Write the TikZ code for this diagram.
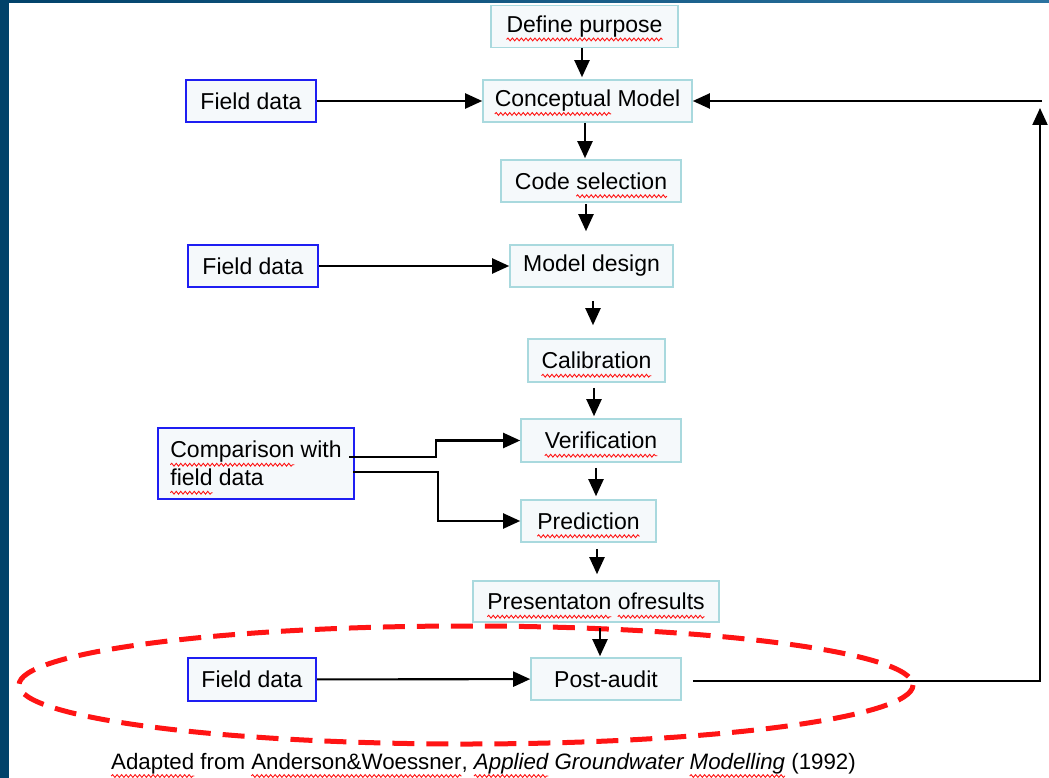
\documentclass[tikz,border=0pt]{standalone}
\usepackage{fontspec}
\setmainfont{Liberation Sans}
\usetikzlibrary{arrows.meta, calc, decorations.pathmorphing}
\definecolor{slidenavy}{HTML}{01426A}
\definecolor{slideteal}{HTML}{2B73A0}
\definecolor{stageline}{HTML}{A9D9DE}
\definecolor{stagefill}{HTML}{F5F9FB}
\definecolor{sourceline}{HTML}{1E1EF2}
\definecolor{auditred}{HTML}{FF1414}
\newcommand{\typo}[1]{\tikz[baseline=(w.base), x=1cm, y=1cm]{\node[draw=none, fill=none, inner sep=0pt, minimum size=0pt, outer sep=0pt] (w) {#1};
  \draw[overlay, auditred, line width=0.9pt, decorate, decoration={snake, amplitude=1.4pt, segment length=4.5pt}] ([yshift=-7pt]w.base west) -- ([yshift=-7pt]w.base east);}}
\tikzset{
stage/.style={draw=stageline, fill=stagefill, line width=1.6pt, inner sep=0pt, minimum height=42pt},
source/.style={draw=sourceline, fill=stagefill, line width=2pt, inner sep=0pt, minimum height=42pt},
flow/.style={draw=black, line width=2.1pt, -{Triangle[length=17pt,width=15pt]}}
}

\begin{document}
\begin{tikzpicture}[x=1pt, y=-1pt, font=\fontsize{23}{28}\selectfont]
  \useasboundingbox (0,0) rectangle (1049,778);
  \fill[slidenavy] (0,0) rectangle (9,778);
  \shade[left color=slidenavy, right color=slideteal] (0,0) rectangle (1049,3);
  \draw[auditred, line width=5pt, dash pattern=on 22pt off 12pt] (466,685) ellipse [x radius=447, y radius=59];
  % main chain
  \node[stage, minimum width=187pt] (define) at (584.5,26.5) {\typo{Define purpose}};
  \node[stage, minimum width=209pt] (concept) at (587.5,101) {\typo{Conceptual} Model};
  \node[stage, minimum width=180pt] (code) at (591,181) {Code \typo{selection}};
  \node[stage, minimum width=163pt] (design) at (591.5,266) {Model design};
  \node[stage, minimum width=137pt, minimum height=43pt] (calib) at (596.5,360.5) {\typo{Calibration}};
  \node[stage, minimum width=160pt, minimum height=43pt] (verif) at (601,440.5) {\typo{Verification}};
  \node[stage, minimum width=135pt] (predict) at (588.5,521) {\typo{Prediction}};
  \node[stage, minimum width=246pt, minimum height=41pt] (present) at (596,601.5) {\typo{Presentaton} \typo{ofresults}};
  \node[stage, minimum width=150pt] (audit) at (606,679) {Post-audit};
  % field inputs
  \node[source, minimum width=130pt] (field1) at (251,101) {Field data};
  \node[source, minimum width=130pt] (field2) at (253,266) {Field data};
  \node[source, minimum width=128pt, minimum height=43pt] (field3) at (252,679.5) {Field data};
  \node[source, minimum width=196pt, minimum height=71pt, align=left] (compare) at (256,463.5) {\typo{Comparison} with\\\typo{field} data};
  \node[anchor=base, font=\fontsize{22.3}{27}\selectfont] (credit) at (483.5,769) {\typo{Adapted} from \typo{Anderson\&Woessner}, \textit{\typo{Applied} Groundwater \typo{Modelling}} (1992)};

  \draw[flow, shorten >=2pt] ($(define.south)+(-2.5,0)$) -- ($(define.south |- concept.north)+(-2.5,0)$);
  \draw[flow, shorten >=1pt] ($(concept.south)+(-2.5,0)$) -- ($(concept.south |- code.north)+(-2.5,0)$);
  \draw[flow, shorten <=1pt, shorten >=13pt] ($(code.south)+(-5,0)$) -- ($(code.south |- design.north)+(-5,0)$);
  \draw[flow, shorten <=13pt, shorten >=13pt] ($(design.south)+(1.5,0)$) -- ($(design.south |- calib.north)+(1.5,0)$);
  \draw[flow, shorten <=5pt, shorten >=2pt] ($(calib.south)+(-2.5,0)$) -- ($(calib.south |- verif.north)+(-2.5,0)$);
  \draw[flow, shorten <=5pt, shorten >=3pt] ($(verif.south)+(-5,0)$) -- ($(verif.south |- predict.north)+(-5,0)$);
  \draw[flow, shorten <=6pt, shorten >=6pt] ($(predict.south)+(8.5,0)$) -- ($(predict.south |- present.north)+(8.5,0)$);
  \draw[flow, shorten <=5pt, shorten >=1pt] ($(present.south)+(4,0)$) -- ($(present.south |- audit.north)+(4,0)$);

  \draw[flow] (field1) -- (concept);
  \draw[flow] (field2) -- (design);
  \draw[flow] (field3) -- (audit);
  \draw[flow] ($(compare.east)+(-6,-6.5)$) -- ++(87,0) |- (verif.west);
  \draw[flow] ($(compare.east)+(-2,8.5)$) -- ++(85,0) |- (predict.west);

  \coordinate (loopup) at (1040,108);
  \coordinate (loopin) at (1042,101);
  \draw[flow] ($(audit.east)+(11,2)$) -| (loopup);
  \draw[flow] (loopin) -- (concept.east);
\end{tikzpicture}
\end{document}
